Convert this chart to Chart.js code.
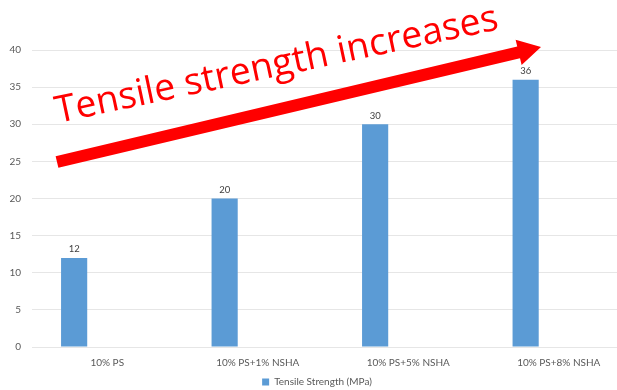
<!DOCTYPE html>
<html>
<head>
<meta charset="utf-8">
<script src="https://cdn.jsdelivr.net/npm/chart.js@4.4.1/dist/chart.umd.min.js"></script>
<style>
  html, body { margin: 0; padding: 0; background: #ffffff; overflow: hidden; }
  /* plot runs slightly past the right edge of the window */
  #wrap { width: 634px; height: 390px; position: relative; }
</style>
</head>
<body>
<div id="wrap"><canvas id="tensileChart"></canvas></div>
<script>
// Samples and measured tensile strength
const samples = ["10% PS", "10% PS+1% NSHA", "10% PS+5% NSHA", "10% PS+8% NSHA"];
const tensileStrength = [12, 20, 30, 36];
const emptySeries = [null, null, null, null];
const yTicks = [0, 5, 10, 15, 20, 25, 30, 35, 40];

const colors = {
  bar: "#5b9bd5",
  grid: "#e6e6e6",
  tick: "#595959",
  label: "#404040",
  arrow: "#ff0000",
};

const fontFamily = "Lato, 'Open Sans', sans-serif";
const captionFont = "'Open Sans', sans-serif";

// value labels above each bar
const valueLabels = {
  id: "valueLabels",
  afterDatasetsDraw(chart) {
    const ctx = chart.ctx;
    const meta = chart.getDatasetMeta(0);
    ctx.save();
    ctx.fillStyle = colors.label;
    ctx.font = "9.5px " + fontFamily;
    ctx.textAlign = "center";
    ctx.textBaseline = "bottom";
    meta.data.forEach((bar, i) => {
      ctx.fillText(String(tensileStrength[i]), bar.x, bar.y - 4);
    });
    ctx.restore();
  },
};

// big red trend arrow with caption
const trendArrow = {
  id: "trendArrow",
  afterDraw(chart) {
    const ctx = chart.ctx;
    const x0 = 57, y0 = 162, x1 = 541, y1 = 47;
    const ang = Math.atan2(y1 - y0, x1 - x0);
    const len = Math.hypot(x1 - x0, y1 - y0);
    const headLen = 23, headHalf = 13, half = 6;

    ctx.save();
    ctx.translate(x0, y0);
    ctx.rotate(ang);
    ctx.fillStyle = colors.arrow;
    ctx.beginPath();
    ctx.moveTo(0, -half);
    ctx.lineTo(len - headLen, -half);
    ctx.lineTo(len - headLen, -headHalf);
    ctx.lineTo(len, 0);
    ctx.lineTo(len - headLen, headHalf);
    ctx.lineTo(len - headLen, half);
    ctx.lineTo(0, half);
    ctx.closePath();
    ctx.fill();
    ctx.restore();

    const text = "Tensile strength increases";
    ctx.save();
    ctx.translate(58, 123);
    ctx.rotate(-12 * Math.PI / 180);
    ctx.font = "30px " + captionFont;
    const w = ctx.measureText(text).width;
    const size = 30 * 452 / w;
    ctx.font = size + "px " + captionFont;
    ctx.fillStyle = colors.arrow;
    ctx.textAlign = "left";
    ctx.textBaseline = "alphabetic";
    ctx.fillText(text, 0, 0);
    ctx.restore();
  },
};

new Chart(document.getElementById("tensileChart").getContext("2d"), {
  type: "bar",
  data: {
    labels: samples,
    datasets: [
      {
        label: "Tensile Strength (MPa)",
        data: tensileStrength,
        backgroundColor: colors.bar,
        categoryPercentage: 0.66,
        barPercentage: 0.79,
      },
      { label: "s2", data: emptySeries, backgroundColor: colors.bar, categoryPercentage: 0.66, barPercentage: 0.79 },
      { label: "s3", data: emptySeries, backgroundColor: colors.bar, categoryPercentage: 0.66, barPercentage: 0.79 },
    ],
  },
  options: {
    responsive: true,
    maintainAspectRatio: false,
    animation: false,
    layout: { padding: { top: 50, right: 0, left: 0, bottom: 0 } },
    plugins: {
      legend: {
        display: true,
        position: "bottom",
        maxHeight: 13,
        labels: {
          color: colors.tick,
          font: { family: fontFamily, size: 10 },
          boxWidth: 7,
          boxHeight: 7,
          padding: 0,
          filter: (item) => item.datasetIndex === 0,
        },
      },
      tooltip: { enabled: false },
    },
    scales: {
      x: {
        afterFit: (scale) => {
          scale.height = 30;
        },
        grid: { display: false, drawTicks: false },
        border: { display: false },
        ticks: {
          color: colors.tick,
          font: { family: fontFamily, size: 10 },
          padding: 10,
          maxRotation: 0,
        },
      },
      y: {
        min: 0,
        max: 40,
        afterBuildTicks: (scale) => {
          scale.ticks = yTicks.map((v) => ({ value: v }));
        },
        afterFit: (scale) => {
          scale.width = 32;
        },
        grid: { color: colors.grid, drawTicks: false },
        border: { display: false },
        ticks: {
          color: colors.tick,
          font: { family: fontFamily, size: 10 },
          padding: 11,
        },
      },
    },
  },
  plugins: [valueLabels, trendArrow],
});
</script>
</body>
</html>
